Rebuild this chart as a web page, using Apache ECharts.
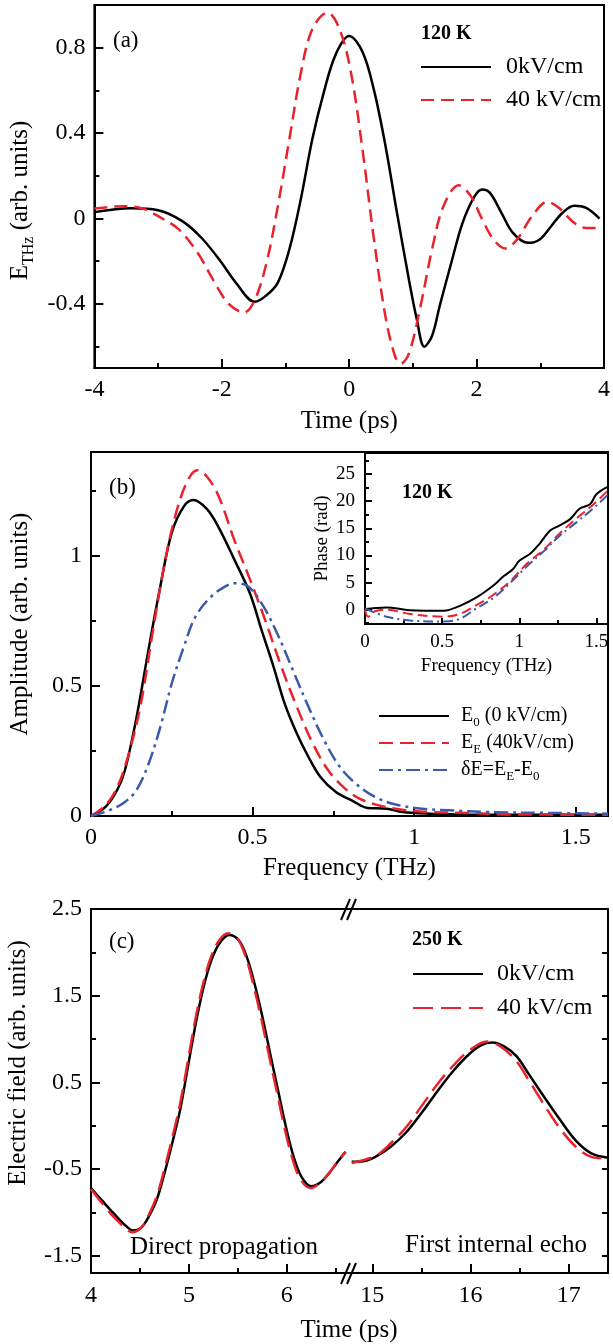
<!DOCTYPE html>
<html>
<head>
<meta charset="utf-8">
<script src="https://cdn.jsdelivr.net/npm/echarts@6/dist/echarts.min.js"></script>
<style>
  html, body { margin: 0; padding: 0; background: #fff; }
  #chart { width: 613px; height: 1344px; }
</style>
</head>
<body>
<div id="chart"></div>
<script>
// ---- (a) THz field vs time, 120 K ----
const aTime0 = [-4.0, -3.42, -3.0, -2.62, -2.32, -2.02, -1.78, -1.48, -1.3, -1.12, -0.94, -0.76, -0.58, -0.4, -0.21, 0.0, 0.21, 0.39, 0.57, 0.75, 0.94, 1.06, 1.18, 1.3, 1.42, 1.6, 1.78, 1.97, 2.09, 2.21, 2.39, 2.57, 2.81, 2.99, 3.17, 3.35, 3.53, 3.72, 3.93]
const aField0 = [0.03, 0.048, 0.039, -0.012, -0.09, -0.2, -0.3, -0.39, -0.36, -0.3, -0.145, 0.09, 0.37, 0.59, 0.77, 0.855, 0.78, 0.6, 0.34, 0.027, -0.29, -0.47, -0.6, -0.55, -0.41, -0.21, -0.02, 0.105, 0.136, 0.12, 0.027, -0.067, -0.114, -0.098, -0.036, 0.027, 0.06, 0.05, 0.0]
const aTime40 = [-4.0, -3.53, -3.23, -3.0, -2.68, -2.38, -2.13, -1.89, -1.65, -1.48, -1.3, -1.12, -0.94, -0.76, -0.58, -0.34, -0.15, 0.03, 0.21, 0.39, 0.57, 0.72, 0.81, 0.94, 1.12, 1.3, 1.48, 1.72, 1.91, 2.09, 2.27, 2.45, 2.63, 2.87, 3.11, 3.29, 3.53, 3.72, 3.9]
const aField40 = [0.047, 0.058, 0.045, 0.011, -0.05, -0.16, -0.29, -0.4, -0.44, -0.38, -0.21, 0.058, 0.37, 0.68, 0.886, 0.964, 0.886, 0.68, 0.32, -0.1, -0.46, -0.645, -0.68, -0.63, -0.41, -0.145, 0.058, 0.156, 0.105, -0.005, -0.1, -0.14, -0.1, 0.011, 0.078, 0.05, -0.02, -0.044, -0.044]

// ---- (b) spectra ----
const bFreq0 = [0, 0.045, 0.081, 0.105, 0.141, 0.178, 0.214, 0.25, 0.287, 0.317, 0.359, 0.395, 0.444, 0.492, 0.528, 0.565, 0.6, 0.637, 0.673, 0.71, 0.758, 0.807, 0.855, 0.915, 0.964, 1.048, 1.169, 1.29, 1.411, 1.6]
const bAmp0 = [0, 0.035, 0.1, 0.176, 0.38, 0.64, 0.88, 1.09, 1.19, 1.215, 1.18, 1.11, 0.985, 0.856, 0.715, 0.574, 0.43, 0.317, 0.227, 0.15, 0.092, 0.06, 0.031, 0.028, 0.015, 0.009, 0.006, 0.005, 0.005, 0.005]
const bFreqE = [0, 0.045, 0.081, 0.117, 0.154, 0.19, 0.226, 0.262, 0.299, 0.329, 0.359, 0.395, 0.444, 0.492, 0.54, 0.589, 0.637, 0.686, 0.734, 0.782, 0.831, 0.891, 0.964, 1.048, 1.169, 1.29, 1.6]
const bAmpE = [0, 0.041, 0.11, 0.24, 0.43, 0.7, 0.96, 1.16, 1.29, 1.33, 1.305, 1.23, 1.06, 0.91, 0.75, 0.574, 0.42, 0.28, 0.176, 0.11, 0.067, 0.041, 0.024, 0.015, 0.012, 0.006, 0.005]
const bFreqD = [0, 0.057, 0.105, 0.141, 0.178, 0.214, 0.25, 0.287, 0.323, 0.371, 0.42, 0.444, 0.48, 0.528, 0.577, 0.625, 0.673, 0.722, 0.77, 0.819, 0.879, 0.94, 1.024, 1.109, 1.23, 1.411, 1.6]
const bAmpD = [0, 0.022, 0.054, 0.1, 0.2, 0.34, 0.51, 0.65, 0.766, 0.843, 0.886, 0.895, 0.888, 0.818, 0.7, 0.56, 0.42, 0.29, 0.189, 0.125, 0.073, 0.045, 0.028, 0.022, 0.015, 0.012, 0.009]

// inset: phase
const pFreq0 = [0, 0.04, 0.14, 0.29, 0.51, 0.615, 0.72, 0.83, 0.9, 0.96, 1.0, 1.07, 1.13, 1.2, 1.26, 1.33, 1.39, 1.46, 1.5, 1.575]
const pPhase0 = [0.1, 0.2, 0.4, -0.1, -0.2, 0.7, 2.2, 4.4, 6.2, 7.5, 9.0, 10.3, 12.1, 14.6, 15.5, 16.7, 18.6, 19.5, 21.3, 22.7]
const pFreqE = [0, 0.02, 0.065, 0.14, 0.29, 0.51, 0.615, 0.72, 0.83, 0.94, 1.05, 1.16, 1.26, 1.37, 1.48, 1.575]
const pPhaseE = [0, -1.3, -0.3, 0.0, -0.8, -1.3, -0.8, 0.8, 2.7, 5.2, 8.5, 11.1, 14.0, 16.8, 19.4, 22.0]
const pFreqD = [0, 0.14, 0.29, 0.51, 0.615, 0.72, 0.83, 0.94, 1.05, 1.16, 1.26, 1.37, 1.48, 1.575]
const pPhaseD = [0.2, -1.3, -2.0, -2.2, -1.7, 0.2, 2.1, 4.9, 8.0, 10.8, 13.6, 16.1, 18.7, 21.2]

// ---- (c) 250 K, direct pulse + first echo ----
const cTime0 = [4.0, 4.11, 4.23, 4.35, 4.43, 4.51, 4.59, 4.67, 4.75, 4.83, 4.91, 4.99, 5.07, 5.15, 5.23, 5.31, 5.41, 5.51, 5.59, 5.67, 5.75, 5.83, 5.91, 5.99, 6.07, 6.15, 6.25, 6.35, 6.43, 6.51, 6.6]
const cField0 = [-0.72, -0.86, -1.01, -1.15, -1.21, -1.18, -1.05, -0.86, -0.55, -0.2, 0.18, 0.68, 1.18, 1.6, 1.91, 2.1, 2.2, 2.14, 1.95, 1.64, 1.26, 0.83, 0.41, -0.01, -0.36, -0.59, -0.7, -0.65, -0.55, -0.43, -0.3]
const cTime40 = [4.0, 4.11, 4.23, 4.35, 4.42, 4.51, 4.59, 4.67, 4.75, 4.83, 4.91, 4.99, 5.07, 5.15, 5.23, 5.31, 5.4, 5.5, 5.58, 5.66, 5.74, 5.82, 5.9, 5.98, 6.06, 6.14, 6.24, 6.34, 6.43, 6.51, 6.6]
const cField40 = [-0.73, -0.89, -1.05, -1.18, -1.23, -1.18, -1.03, -0.82, -0.5, -0.14, 0.25, 0.75, 1.25, 1.66, 1.96, 2.14, 2.22, 2.15, 1.95, 1.62, 1.23, 0.8, 0.38, -0.04, -0.39, -0.62, -0.72, -0.66, -0.55, -0.43, -0.3]
const cEchoTime0 = [14.79, 14.91, 15.03, 15.19, 15.35, 15.51, 15.67, 15.83, 15.99, 16.11, 16.22, 16.35, 16.47, 16.59, 16.75, 16.91, 17.07, 17.23, 17.4]
const cEchoField0 = [-0.415, -0.41, -0.36, -0.24, -0.07, 0.16, 0.41, 0.64, 0.83, 0.93, 0.96, 0.91, 0.8, 0.6, 0.33, 0.07, -0.17, -0.32, -0.37]
const cEchoTime40 = [14.79, 15.03, 15.19, 15.35, 15.51, 15.67, 15.83, 15.99, 16.17, 16.31, 16.47, 16.59, 16.75, 16.91, 17.07, 17.23, 17.4]
const cEchoField40 = [-0.43, -0.35, -0.2, -0.01, 0.24, 0.49, 0.7, 0.87, 0.97, 0.91, 0.74, 0.53, 0.24, -0.03, -0.24, -0.36, -0.38]

const FONT = 'Liberation Serif'
const RED = '#e8232b'
const BLUE = '#3a5aad'

const pairs = (xs, ys) => xs.map((x, i) => [x, ys[i]])

// one value axis; major & minor ticks are built as two overlaid axes
function axis(o) {
  return {
    type: 'value',
    gridIndex: o.grid,
    position: o.pos,
    min: o.min,
    max: o.max,
    axisLine: { show: !!o.line, onZero: false, lineStyle: { color: '#000', width: 2 } },
    axisTick: { show: !!o.ticks, inside: true, length: o.len || 9, customValues: o.ticks, lineStyle: { color: '#000', width: 2 } },
    axisLabel: { show: !!o.labels, customValues: o.labels, margin: o.margin || 9, color: '#000', fontFamily: FONT, fontSize: o.fs || 24 },
    splitLine: { show: false },
    name: o.name,
    nameLocation: 'middle',
    nameGap: o.gap,
    nameTextStyle: o.nameStyle
  }
}

const nameStyle = (size, pad, rich) => ({ color: '#000', fontFamily: FONT, fontSize: size, padding: pad, rich: rich })

const chart = echarts.init(document.getElementById('chart'))

const lineSeries = (name, x, y, data, color, dash, width) => ({
  name: name, type: 'line', xAxisIndex: x, yAxisIndex: y, data: data,
  showSymbol: false, symbol: 'none', smooth: 0.35,
  lineStyle: { color: color, width: width || 2.5, type: dash || 'solid' },
  itemStyle: { color: color }
})

const legendLabels = {
  a0: '0kV/cm', a40: '40 kV/cm',
  E0: '{n|E}{s|0}{n| (0 kV/cm)}', EE: '{n|E}{s|E}{n| (40kV/cm)}', dE: '{n|δE=E}{s|E}{n|-E}{s|0}',
  c0: '0kV/cm', c40: '40 kV/cm'
}
const legendBase = (data, left, top, size, gap, pad, rich) => ({
  data: data, orient: 'vertical', left: left, top: top, padding: 0,
  itemWidth: 70, itemHeight: 14, itemGap: gap, selectedMode: false,
  itemStyle: { color: 'transparent', borderColor: 'transparent', borderWidth: 0 },
  formatter: name => legendLabels[name],
  textStyle: { color: '#000', fontFamily: FONT, fontSize: size, lineHeight: size, padding: [0, 0, 0, pad], rich: rich }
})

const txt = (text, x, y, size, opts) => Object.assign({
  type: 'text', x: x, y: y, z: 100,
  style: { text: text, fill: '#000', fontFamily: FONT, fontSize: size, align: 'left', verticalAlign: 'middle' }
}, opts || {})

chart.setOption({
  animation: false,
  backgroundColor: '#fff',
  grid: [
    { left: 91, right: 5, top: 5, height: 363, show: true, borderColor: '#000', borderWidth: 2 },
    { left: 91, right: 5, top: 452, height: 364, show: true, borderColor: '#000', borderWidth: 2 },
    { left: 365, right: 5, top: 453, height: 171, show: true, backgroundColor: '#fff', borderColor: '#000', borderWidth: 2 },
    { left: 91, width: 257.5, top: 909, height: 364 },
    { left: 348.5, right: 5, top: 909, height: 364 }
  ],
  xAxis: [
    axis({ grid: 0, pos: 'bottom', min: -4, max: 4, line: true, ticks: [-4, -2, 0, 2, 4], labels: [-4, -2, 0, 2, 4], len: 9, margin: 10,
      name: 'Time (ps)', gap: 41, nameStyle: nameStyle(25) }),
    axis({ grid: 0, pos: 'bottom', min: -4, max: 4, ticks: [-3, -1, 1, 3], len: 5 }),
    axis({ grid: 1, pos: 'bottom', min: 0, max: 1.6, line: true, ticks: [0, 0.5, 1, 1.5], labels: [0, 0.5, 1, 1.5], len: 9, margin: 10,
      name: 'Frequency (THz)', gap: 40, nameStyle: nameStyle(25) }),
    axis({ grid: 1, pos: 'bottom', min: 0, max: 1.6, ticks: [0.25, 0.75, 1.25], len: 5 }),
    axis({ grid: 2, pos: 'bottom', min: 0, max: 1.575, line: true, ticks: [0, 0.5, 1, 1.5], labels: [0, 0.5, 1, 1.5], len: 6, margin: 9, fs: 19,
      name: 'Frequency (THz)', gap: 33, nameStyle: nameStyle(19) }),
    axis({ grid: 2, pos: 'bottom', min: 0, max: 1.575, ticks: [0.25, 0.75, 1.25], len: 4 }),
    axis({ grid: 3, pos: 'bottom', min: 4, max: 6.63, line: true, ticks: [4, 5, 6], labels: [4, 5, 6], len: 9, margin: 11 }),
    axis({ grid: 3, pos: 'bottom', min: 4, max: 6.63, ticks: [4.5, 5.5, 6.5], len: 5 }),
    axis({ grid: 3, pos: 'top', min: 4, max: 6.63, line: true }),
    axis({ grid: 4, pos: 'bottom', min: 14.757, max: 17.4, line: true, ticks: [15, 16, 17], labels: [15, 16, 17], len: 9, margin: 11 }),
    axis({ grid: 4, pos: 'bottom', min: 14.757, max: 17.4, ticks: [15.5, 16.5], len: 5 }),
    axis({ grid: 4, pos: 'top', min: 14.757, max: 17.4, line: true })
  ],
  yAxis: [
    axis({ grid: 0, pos: 'left', min: -0.7, max: 1.0, line: true, ticks: [-0.4, 0, 0.4, 0.8], labels: [-0.4, 0, 0.4, 0.8], len: 9,
      name: '{n|E}{s|THz}{n| (arb. units)}', gap: 56,
      nameStyle: nameStyle(25, [0, 28, 0, 0], {
        n: { fontFamily: FONT, fontSize: 25, lineHeight: 32, color: '#000' },
        s: { fontFamily: FONT, fontSize: 16, lineHeight: 16, verticalAlign: 'bottom', color: '#000' }
      }) }),
    axis({ grid: 0, pos: 'left', min: -0.7, max: 1.0, ticks: [-0.6, -0.2, 0.2, 0.6], len: 5 }),
    axis({ grid: 1, pos: 'left', min: 0, max: 1.4, line: true, ticks: [0, 0.5, 1], labels: [0, 0.5, 1], len: 9,
      name: 'Amplitude (arb. units)', gap: 58, nameStyle: nameStyle(25, [0, 0, 0, 20]) }),
    axis({ grid: 1, pos: 'left', min: 0, max: 1.4, ticks: [0.25, 0.75, 1.25], len: 5 }),
    axis({ grid: 2, pos: 'left', min: -2.65, max: 28.9, line: true, ticks: [0, 5, 10, 15, 20, 25], labels: [0, 5, 10, 15, 20, 25], len: 7, margin: 10, fs: 19,
      name: 'Phase (rad)', gap: 33, nameStyle: nameStyle(19) }),
    axis({ grid: 2, pos: 'left', min: -2.65, max: 28.9, ticks: [-2.5, 2.5, 7.5, 12.5, 17.5, 22.5, 27.5], len: 4 }),
    axis({ grid: 3, pos: 'left', min: -1.7, max: 2.5, line: true, ticks: [-1.5, -0.5, 0.5, 1.5, 2.5], labels: [-1.5, -0.5, 0.5, 1.5, 2.5], len: 9,
      name: 'Electric field (arb. units)', gap: 60, nameStyle: nameStyle(25, [0, 0, 0, 56]) }),
    axis({ grid: 3, pos: 'left', min: -1.7, max: 2.5, ticks: [-1, 0, 1, 2], len: 5 }),
    axis({ grid: 4, pos: 'right', min: -1.7, max: 2.5, line: true, ticks: [-1.5, -1, -0.5, 0, 0.5, 1, 1.5, 2], len: 6 })
  ],
  legend: [
    legendBase(['a0', 'a40'], 420, 55, 24, 9, 10),
    legendBase(['E0', 'EE', 'dE'], 378, 703, 20, 1, 7, {
      n: { fontFamily: FONT, fontSize: 20, lineHeight: 26, color: '#000' },
      s: { fontFamily: FONT, fontSize: 13, lineHeight: 13, verticalAlign: 'bottom', color: '#000' }
    }),
    legendBase(['c0', 'c40'], 412, 962, 24, 10, 9)
  ],
  series: [
    lineSeries('a0', 0, 0, pairs(aTime0, aField0), '#000'),
    lineSeries('a40', 0, 0, pairs(aTime40, aField40), RED, [13, 7]),
    lineSeries('E0', 2, 2, pairs(bFreq0, bAmp0), '#000'),
    lineSeries('EE', 2, 2, pairs(bFreqE, bAmpE), RED, [14, 7]),
    lineSeries('dE', 2, 2, pairs(bFreqD, bAmpD), BLUE, [14, 5, 3, 5]),
    lineSeries('pE0', 4, 4, pairs(pFreq0, pPhase0), '#000', null, 2),
    lineSeries('pEE', 4, 4, pairs(pFreqE, pPhaseE), RED, [10, 5], 2),
    lineSeries('pdE', 4, 4, pairs(pFreqD, pPhaseD), BLUE, [10, 4, 2, 4], 2),
    lineSeries('c0', 6, 6, pairs(cTime0, cField0), '#000'),
    lineSeries('c40', 6, 6, pairs(cTime40, cField40), RED, [20, 8]),
    lineSeries('c0', 9, 8, pairs(cEchoTime0, cEchoField0), '#000'),
    lineSeries('c40', 9, 8, pairs(cEchoTime40, cEchoField40), RED, [20, 8])
  ],
  graphic: [
    txt('(a)', 113, 41, 23),
    txt('120 K', 421, 34, 20, { style: { text: '120 K', fill: '#000', fontFamily: FONT, fontSize: 20, fontWeight: 'bold', verticalAlign: 'middle' } }),
    txt('(b)', 109, 488, 23),
    txt('120 K', 402, 493, 20, { style: { text: '120 K', fill: '#000', fontFamily: FONT, fontSize: 20, fontWeight: 'bold', verticalAlign: 'middle' } }),
    txt('(c)', 109, 942, 23),
    txt('250 K', 412, 940, 20, { style: { text: '250 K', fill: '#000', fontFamily: FONT, fontSize: 20, fontWeight: 'bold', verticalAlign: 'middle' } }),
    txt('Direct propagation', 224, 1247, 25, { style: { text: 'Direct propagation', fill: '#000', fontFamily: FONT, fontSize: 25, align: 'center', verticalAlign: 'middle' } }),
    txt('First internal echo', 496, 1245, 25, { style: { text: 'First internal echo', fill: '#000', fontFamily: FONT, fontSize: 25, align: 'center', verticalAlign: 'middle' } }),
    txt('Time (ps)', 349, 1330, 25, { style: { text: 'Time (ps)', fill: '#000', fontFamily: FONT, fontSize: 25, align: 'center', verticalAlign: 'middle' } }),
    // axis break marks
    { type: 'line', z: 100, shape: { x1: 341, y1: 920, x2: 350, y2: 899 }, style: { stroke: '#000', lineWidth: 2 } },
    { type: 'line', z: 100, shape: { x1: 347, y1: 920, x2: 356, y2: 899 }, style: { stroke: '#000', lineWidth: 2 } },
    { type: 'line', z: 100, shape: { x1: 341, y1: 1284, x2: 350, y2: 1263 }, style: { stroke: '#000', lineWidth: 2 } },
    { type: 'line', z: 100, shape: { x1: 347, y1: 1284, x2: 356, y2: 1263 }, style: { stroke: '#000', lineWidth: 2 } }
  ]
})
</script>
</body>
</html>
